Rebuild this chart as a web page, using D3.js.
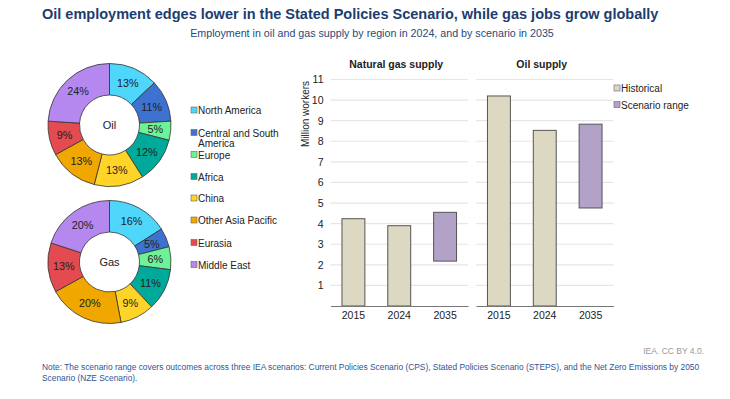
<!DOCTYPE html>
<html>
<head>
<meta charset="utf-8">
<script src="https://cdn.jsdelivr.net/npm/d3@7"></script>
<style>
  body { margin: 0; background: #fff; font-family: "Liberation Sans", Arial, sans-serif; }
  svg text { font-family: "Liberation Sans", Arial, sans-serif; }
</style>
</head>
<body>
<div id="chart"></div>
<script>
// regions, clockwise from 12 o'clock
const regions = ['North America', 'Central and South America', 'Europe', 'Africa', 'China', 'Other Asia Pacific', 'Eurasia', 'Middle East'];
const regionColors = ['#4fd6fb', '#3d72d1', '#6ef297', '#00a99a', '#ffd428', '#f0a800', '#e34b50', '#b488ee'];
const oilShares = [13, 11, 5, 12, 13, 13, 9, 24];
const gasShares = [16, 5, 6, 11, 9, 20, 13, 20];

const years = ['2015', '2024', '2035'];
// historical bars (2015, 2024) and scenario range (2035) in million workers
const gasHist = [4.24, 3.9, null];
const gasRange = [null, null, [2.18, 4.55]];
const oilHist = [10.2, 8.53, null];
const oilRange = [null, null, [4.76, 8.83]];
const yTicks = [1, 2, 3, 4, 5, 6, 7, 8, 9, 10, 11];

const color = {
  title: '#1c3d6e',
  sub: '#1f4a7c',
  note: '#2f5597',
  hist: '#ddd8c2',
  range: '#b3a2c7',
  barStroke: '#555',
  grid: '#e6e6e6',
  axis: '#777',
  text: '#222'
};

const W = 730, H = 399;
const svg = d3.select('#chart').append('svg').attr('width', W).attr('height', H);

// titles
svg.append('text').attr('x', 42).attr('y', 19)
  .attr('font-size', 14.5).attr('font-weight', 'bold').attr('fill', color.title)
  .text('Oil employment edges lower in the Stated Policies Scenario, while gas jobs grow globally');
svg.append('text').attr('x', 372).attr('y', 37).attr('text-anchor', 'middle')
  .attr('font-size', 10.7).attr('fill', color.sub)
  .text('Employment in oil and gas supply by region in 2024, and by scenario in 2035');

// donuts
const pie = d3.pie().sort(null).value(d => d);
const arc = d3.arc().innerRadius(30).outerRadius(61.5);
const labelArc = d3.arc().innerRadius(46).outerRadius(46);

function donut(cx, cy, values, name){
  const g = svg.append('g').attr('transform', `translate(${cx},${cy})`);
  const arcs = pie(values);
  g.selectAll('path').data(arcs).join('path')
    .attr('d', arc)
    .attr('fill', (d, i) => regionColors[i])
    .attr('stroke', '#333').attr('stroke-width', 0.8);
  g.selectAll('text.pct').data(arcs).join('text')
    .attr('class', 'pct')
    .attr('transform', d => `translate(${labelArc.centroid(d)})`)
    .attr('text-anchor', 'middle').attr('dy', '0.35em')
    .attr('font-size', 10.8).attr('fill', color.text)
    .text(d => d.data + '%');
  g.append('text').attr('text-anchor', 'middle').attr('dy', '0.35em')
    .attr('font-size', 11).attr('fill', color.text).text(name);
}
donut(109.5, 125, oilShares, 'Oil');
donut(109.5, 262, gasShares, 'Gas');

// region legend
const legY = [110.5, 133, 155, 177, 198.5, 220.5, 243, 265];
const legG = svg.append('g');
regions.forEach((r, i) => {
  const y = legY[i];
  legG.append('rect').attr('x', 191).attr('y', y - 3.5).attr('width', 6).attr('height', 6)
    .attr('fill', regionColors[i]).attr('stroke', '#666').attr('stroke-width', 0.6);
  if (r === 'Central and South America') {
    const t = legG.append('text').attr('x', 198).attr('y', y).attr('dy', '0.35em')
      .attr('font-size', 10).attr('fill', color.text);
    t.append('tspan').attr('x', 198).text('Central and South');
    t.append('tspan').attr('x', 198).attr('dy', 10.5).text('America');
  } else {
    legG.append('text').attr('x', 198).attr('y', y).attr('dy', '0.35em')
      .attr('font-size', 10).attr('fill', color.text).text(r);
  }
});

// bar panels
const y = d3.scaleLinear().domain([0, 11]).range([306, 79.5]);

function panel(x0, x1, title, hist, range, showAxis){
  const g = svg.append('g');
  const x = d3.scaleBand().domain(years).range([x0, x1]).paddingInner(0.5).paddingOuter(0.25);
  g.selectAll('line.grid').data(yTicks).join('line')
    .attr('class', 'grid')
    .attr('x1', x0).attr('x2', x1)
    .attr('y1', d => y(d)).attr('y2', d => y(d))
    .attr('stroke', color.grid).attr('stroke-width', 1.2);
  if (showAxis) {
    const ya = d3.axisLeft(y).tickValues(yTicks).tickSize(0).tickPadding(7);
    const ag = g.append('g').attr('transform', `translate(${x0},0)`).call(ya);
    ag.select('.domain').remove();
    ag.selectAll('text').attr('font-size', 10.5).attr('fill', color.text);
  }
  g.selectAll('rect.hist').data(years.map((yr, i) => ({yr, v: hist[i]})).filter(d => d.v != null)).join('rect')
    .attr('class', 'hist')
    .attr('x', d => x(d.yr)).attr('width', x.bandwidth())
    .attr('y', d => y(d.v)).attr('height', d => y(0) - y(d.v))
    .attr('fill', color.hist).attr('stroke', color.barStroke).attr('stroke-width', 1);
  g.selectAll('rect.range').data(years.map((yr, i) => ({yr, r: range[i]})).filter(d => d.r != null)).join('rect')
    .attr('class', 'range')
    .attr('x', d => x(d.yr)).attr('width', x.bandwidth())
    .attr('y', d => y(d.r[1])).attr('height', d => y(d.r[0]) - y(d.r[1]))
    .attr('fill', color.range).attr('stroke', color.barStroke).attr('stroke-width', 1);
  const xa = d3.axisBottom(x).tickSize(0).tickPadding(6);
  const xg = g.append('g').attr('transform', `translate(0,${y(0)})`).call(xa);
  xg.select('.domain').attr('stroke', color.axis).attr('stroke-width', 1.2);
  xg.selectAll('text').attr('font-size', 10.5).attr('fill', color.text);
  g.append('text').attr('x', (x0 + x1) / 2 - 3).attr('y', 68).attr('text-anchor', 'middle')
    .attr('font-size', 10.5).attr('font-weight', 'bold').attr('fill', color.text).text(title);
}
panel(330.5, 468, 'Natural gas supply', gasHist, gasRange, true);
panel(476, 613.5, 'Oil supply', oilHist, oilRange, false);

svg.append('text').attr('transform', 'translate(309,114) rotate(-90)')
  .attr('text-anchor', 'middle').attr('font-size', 10).attr('fill', color.text).text('Million workers');

// bar legend
[['Historical', color.hist, 88.5], ['Scenario range', color.range, 105]].forEach(([t, c, ly]) => {
  svg.append('rect').attr('x', 614).attr('y', ly - 3.5).attr('width', 6).attr('height', 6)
    .attr('fill', c).attr('stroke', '#666').attr('stroke-width', 0.6);
  svg.append('text').attr('x', 621).attr('y', ly).attr('dy', '0.35em')
    .attr('font-size', 10).attr('fill', color.text).text(t);
});

// source and note
svg.append('text').attr('x', 704).attr('y', 354).attr('text-anchor', 'end')
  .attr('font-size', 8.5).attr('fill', '#999').text('IEA. CC BY 4.0.');
const note = svg.append('text').attr('x', 42).attr('y', 370).attr('font-size', 8.4).attr('fill', color.note);
note.append('tspan').attr('x', 42)
  .text('Note: The scenario range covers outcomes across three IEA scenarios: Current Policies Scenario (CPS), Stated Policies Scenario (STEPS), and the Net Zero Emissions by 2050');
note.append('tspan').attr('x', 42).attr('dy', 11).text('Scenario (NZE Scenario).');
</script>
</body>
</html>
